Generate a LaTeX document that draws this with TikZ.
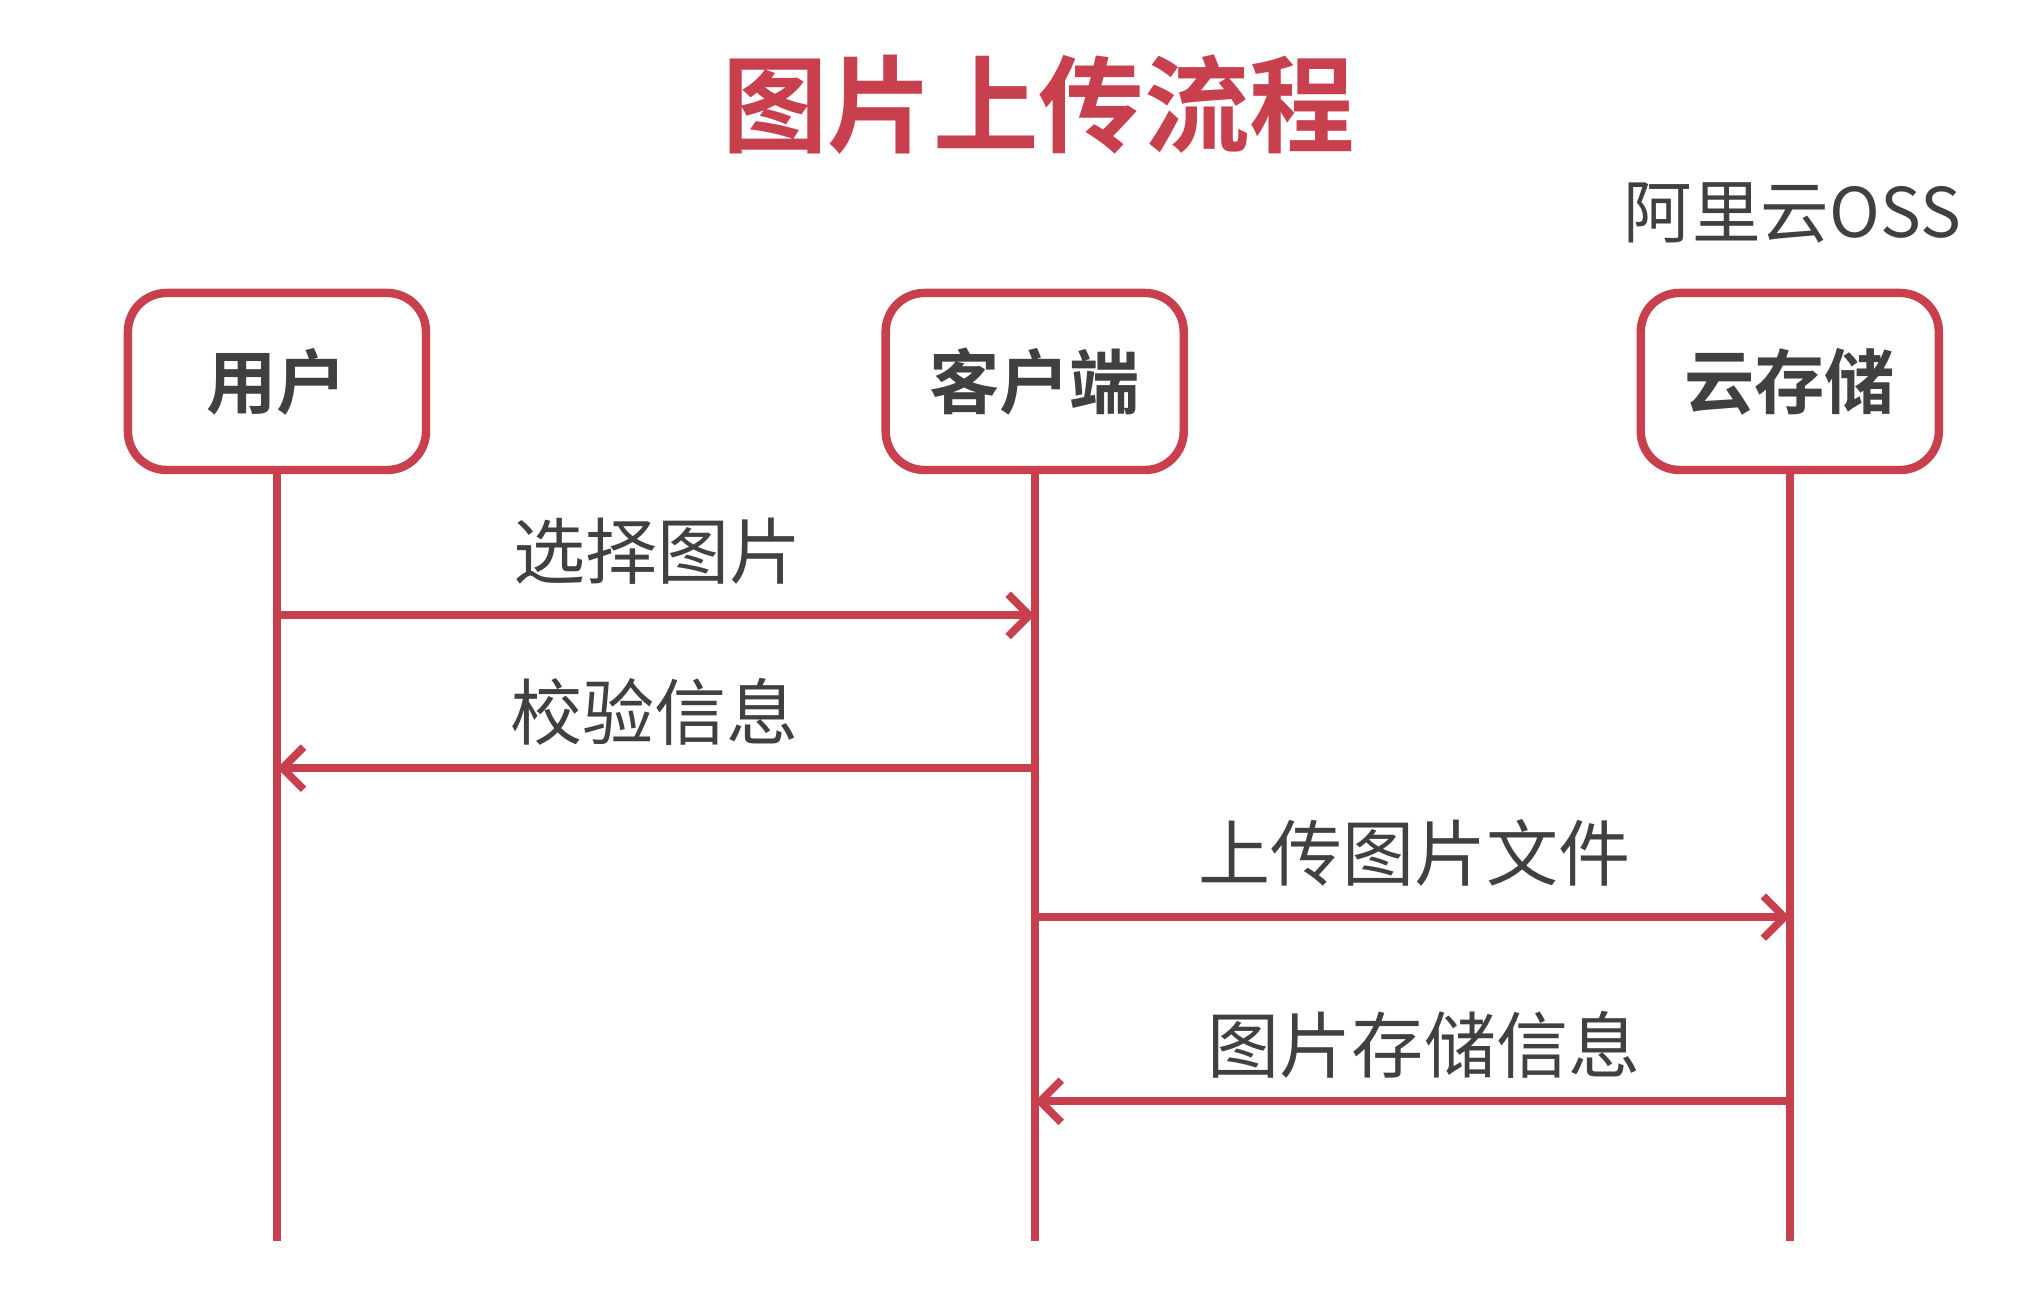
\documentclass[tikz,border=0pt]{standalone}
\usepackage{fontspec}
\setmainfont{Noto Sans CJK SC}
\newfontfamily\cjkb{Noto Sans CJK SC Bold}
\usetikzlibrary{arrows.meta}
\definecolor{myred}{HTML}{C8404E}
\definecolor{mygray}{HTML}{404040}
\begin{document}
\begin{tikzpicture}[x=0.013064cm,y=-0.013064cm,
  actor/.style={draw=myred,line width=2.4pt,rounded corners=11pt,minimum width=2.98cm,minimum height=1.77cm,fill=white,text=mygray,font=\cjkb\fontsize{20}{24}\selectfont},
  life/.style={myred,line width=2.2pt},
  msg/.style={myred,line width=2.2pt,-{Straight Barb[length=6pt,width=12pt,line width=2.2pt]}},
  lbl/.style={text=mygray,font=\fontsize{20.5}{25}\selectfont}]
\useasboundingbox (0,0) rectangle (1560,995);
\node[text=myred,font=\cjkb\fontsize{30}{36}\selectfont] (title) at (795,80) {图片上传流程};
\node[text=mygray,font=\fontsize{19.5}{24}\selectfont] (oss) at (1372,163) {阿里云OSS};
\foreach \n/\t/\x in {u/用户/212,c/客户端/792,s/云存储/1370}{
  \node[actor] (\n) at (\x,292) {\t};
  \coordinate (\n e) at (\x,950);
  \draw[life] (\n.south) -- (\n e);
}
\coordinate (u1) at (212,471); \coordinate (c1) at (792,471);
\coordinate (u2) at (212,588); \coordinate (c2) at (792,588);
\coordinate (c3) at (792,702); \coordinate (s3) at (1370,702);
\coordinate (c4) at (792,843); \coordinate (s4) at (1370,843);
\draw[msg] (u1) -- (c1);
\draw[msg] (c2) -- (u2);
\draw[msg] (c3) -- (s3);
\draw[msg] (s4) -- (c4);
\node[lbl] (l1) at (503,422) {选择图片};
\node[lbl] (l2) at (501,545) {校验信息};
\node[lbl] (l3) at (1083,653) {上传图片文件};
\node[lbl] (l4) at (1090,800) {图片存储信息};
\end{tikzpicture}
\end{document}
